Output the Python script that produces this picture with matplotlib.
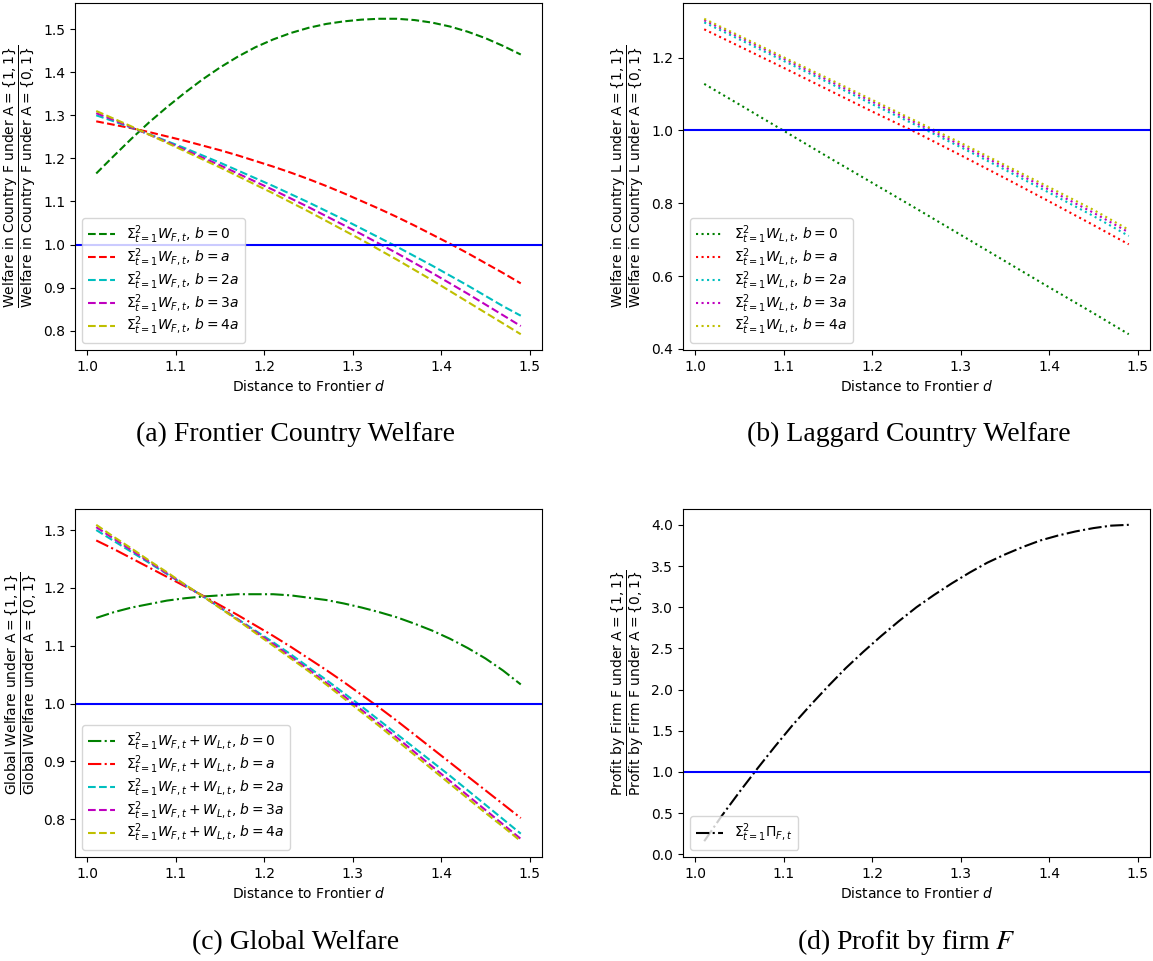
import matplotlib
matplotlib.use("Agg")
from matplotlib import pyplot as plt

# distance to frontier (fine grid used by the curved panels)
d = [1.01, 1.03, 1.05, 1.07, 1.09, 1.11, 1.13, 1.15, 1.17, 1.19, 1.21, 1.23, 1.25,
     1.27, 1.29, 1.31, 1.33, 1.35, 1.37, 1.39, 1.41, 1.43, 1.45, 1.47, 1.49]
# coarser grid for the almost straight panel (b)
d_b = [1.01, 1.05, 1.10, 1.15, 1.20, 1.25, 1.30, 1.35, 1.40, 1.45, 1.49]

# (a) frontier country welfare ratio
wf_b0 = [1.165, 1.206, 1.246, 1.284, 1.319, 1.352, 1.383, 1.411, 1.436, 1.458, 1.476, 1.491, 1.503,
         1.512, 1.518, 1.522, 1.524, 1.524, 1.521, 1.515, 1.506, 1.494, 1.479, 1.461, 1.441]
wf_b1 = [1.286, 1.278, 1.270, 1.261, 1.251, 1.241, 1.230, 1.219, 1.207, 1.194, 1.181, 1.167, 1.152,
         1.136, 1.119, 1.101, 1.083, 1.064, 1.044, 1.023, 1.002, 0.980, 0.957, 0.934, 0.910]
wf_b2 = [1.300, 1.286, 1.271, 1.256, 1.240, 1.224, 1.207, 1.190, 1.172, 1.154, 1.136, 1.117, 1.098,
         1.078, 1.058, 1.037, 1.016, 0.995, 0.973, 0.951, 0.928, 0.905, 0.881, 0.857, 0.835]
wf_b3 = [1.305, 1.289, 1.272, 1.255, 1.238, 1.220, 1.202, 1.184, 1.165, 1.146, 1.127, 1.107, 1.087,
         1.066, 1.045, 1.024, 1.002, 0.980, 0.957, 0.934, 0.910, 0.886, 0.861, 0.836, 0.811]
wf_b4 = [1.310, 1.292, 1.274, 1.255, 1.236, 1.217, 1.198, 1.179, 1.159, 1.139, 1.119, 1.098, 1.077,
         1.055, 1.033, 1.011, 0.988, 0.965, 0.941, 0.917, 0.892, 0.867, 0.842, 0.817, 0.792]

# (b) laggard country welfare ratio
wl_b0 = [1.128, 1.071, 0.999, 0.927, 0.856, 0.785, 0.713, 0.641, 0.569, 0.498, 0.440]
wl_b1 = [1.278, 1.231, 1.172, 1.112, 1.052, 0.994, 0.932, 0.869, 0.805, 0.740, 0.687]
wl_b2 = [1.297, 1.250, 1.191, 1.132, 1.072, 1.014, 0.954, 0.892, 0.829, 0.765, 0.710]
wl_b3 = [1.303, 1.256, 1.197, 1.138, 1.079, 1.020, 0.960, 0.899, 0.837, 0.774, 0.720]
wl_b4 = [1.307, 1.260, 1.201, 1.143, 1.084, 1.025, 0.966, 0.905, 0.844, 0.782, 0.727]

# (c) global welfare ratio
gw_b0 = [1.148, 1.158, 1.166, 1.172, 1.178, 1.182, 1.185, 1.187, 1.189, 1.189, 1.189, 1.187, 1.183,
         1.179, 1.173, 1.166, 1.158, 1.149, 1.138, 1.126, 1.112, 1.096, 1.078, 1.057, 1.033]
gw_b1 = [1.282, 1.267, 1.251, 1.235, 1.219, 1.203, 1.187, 1.170, 1.153, 1.135, 1.117, 1.098, 1.078,
         1.058, 1.037, 1.015, 0.993, 0.970, 0.946, 0.922, 0.898, 0.874, 0.850, 0.826, 0.802]
gw_b2 = [1.300, 1.281, 1.262, 1.243, 1.224, 1.205, 1.186, 1.166, 1.146, 1.126, 1.106, 1.085, 1.063,
         1.041, 1.018, 0.995, 0.971, 0.947, 0.923, 0.899, 0.875, 0.850, 0.825, 0.800, 0.775]
gw_b3 = [1.305, 1.285, 1.265, 1.245, 1.225, 1.205, 1.186, 1.166, 1.145, 1.124, 1.103, 1.081, 1.059,
         1.036, 1.013, 0.989, 0.965, 0.941, 0.916, 0.891, 0.866, 0.841, 0.816, 0.791, 0.766]
gw_b4 = [1.309, 1.288, 1.268, 1.247, 1.227, 1.206, 1.186, 1.165, 1.144, 1.122, 1.100, 1.078, 1.056,
         1.033, 1.009, 0.985, 0.961, 0.936, 0.911, 0.886, 0.861, 0.836, 0.811, 0.787, 0.762]

# (d) profit ratio of firm F
pf = [0.16, 0.47, 0.76, 1.04, 1.31, 1.57, 1.81, 2.04, 2.26, 2.46, 2.65, 2.83, 3.00,
      3.15, 3.29, 3.42, 3.54, 3.64, 3.73, 3.81, 3.87, 3.92, 3.96, 3.99, 4.00]

b_tags = ['0', 'a', '2a', '3a', '4a']
colors = ['g', 'r', 'c', 'm', 'y']

plt.rcParams['font.size'] = 10
fig = plt.figure(figsize=(11.53, 9.61), dpi=100)

W, H = 1153, 961
def box(x0, x1, y0, y1):
    return [x0 / W, (H - y1) / H, (x1 - x0) / W, (y1 - y0) / H]

ax_a = fig.add_axes(box(75, 542, 3, 350))
ax_b = fig.add_axes(box(683, 1150, 3, 350))
ax_c = fig.add_axes(box(75, 542, 509, 857))
ax_d = fig.add_axes(box(683, 1150, 509, 857))

def frac(text):
    text = text.replace(' ', r'\ ')
    return r'$\dfrac{\mathrm{%s} = \{1,1\}}{\mathrm{%s} = \{0,1\}}$' % (text, text)

leg = dict(loc='lower left', labelspacing=0.02)

# (a)
for ys, c, t in zip([wf_b0, wf_b1, wf_b2, wf_b3, wf_b4], colors, b_tags):
    ax_a.plot(d, ys, '--', color=c, label=r'$\Sigma_{t=1}^{2}W_{F,t}$, $b=%s$' % t)
ax_a.axhline(1.0, color='b')
ax_a.legend(**leg)
ax_a.set_ylabel(frac('Welfare in Country F under A'))
ax_a.set_xlabel(r'Distance to Frontier $d$')

# (b)
for ys, c, t in zip([wl_b0, wl_b1, wl_b2, wl_b3, wl_b4], colors, b_tags):
    ax_b.plot(d_b, ys, ':', color=c, label=r'$\Sigma_{t=1}^{2}W_{L,t}$, $b=%s$' % t)
ax_b.axhline(1.0, color='b')
ax_b.legend(**leg)
ax_b.set_ylabel(frac('Welfare in Country L under A'))
ax_b.set_xlabel(r'Distance to Frontier $d$')

# (c)
styles_c = ['-.', '-.', '--', '--', '--']
for ys, c, t, ls in zip([gw_b0, gw_b1, gw_b2, gw_b3, gw_b4], colors, b_tags, styles_c):
    ax_c.plot(d, ys, ls, color=c, label=r'$\Sigma_{t=1}^{2}W_{F,t}+W_{L,t}$, $b=%s$' % t)
ax_c.axhline(1.0, color='b')
ax_c.legend(**leg)
ax_c.set_ylabel(frac('Global Welfare under A'))
ax_c.set_xlabel(r'Distance to Frontier $d$')

# (d)
ax_d.plot(d, pf, '-.', color='k', label=r'$\Sigma_{t=1}^{2}\Pi_{F,t}$')
ax_d.axhline(1.0, color='b')
ax_d.legend(**leg)
ax_d.set_ylabel(frac('Profit by Firm F under A'))
ax_d.set_xlabel(r'Distance to Frontier $d$')

# subfigure captions
cap = dict(family='Liberation Serif', fontsize=20, ha='center', va='baseline',
           math_fontfamily='stix')
fig.text(296 / W, (H - 441) / H, '(a) Frontier Country Welfare', **cap)
fig.text(909 / W, (H - 441) / H, '(b) Laggard Country Welfare', **cap)
fig.text(296 / W, (H - 949) / H, '(c) Global Welfare', **cap)
fig.text(906 / W, (H - 949) / H, r'(d) Profit by firm $F$', **cap)

fig.savefig('out.png', dpi=100)
